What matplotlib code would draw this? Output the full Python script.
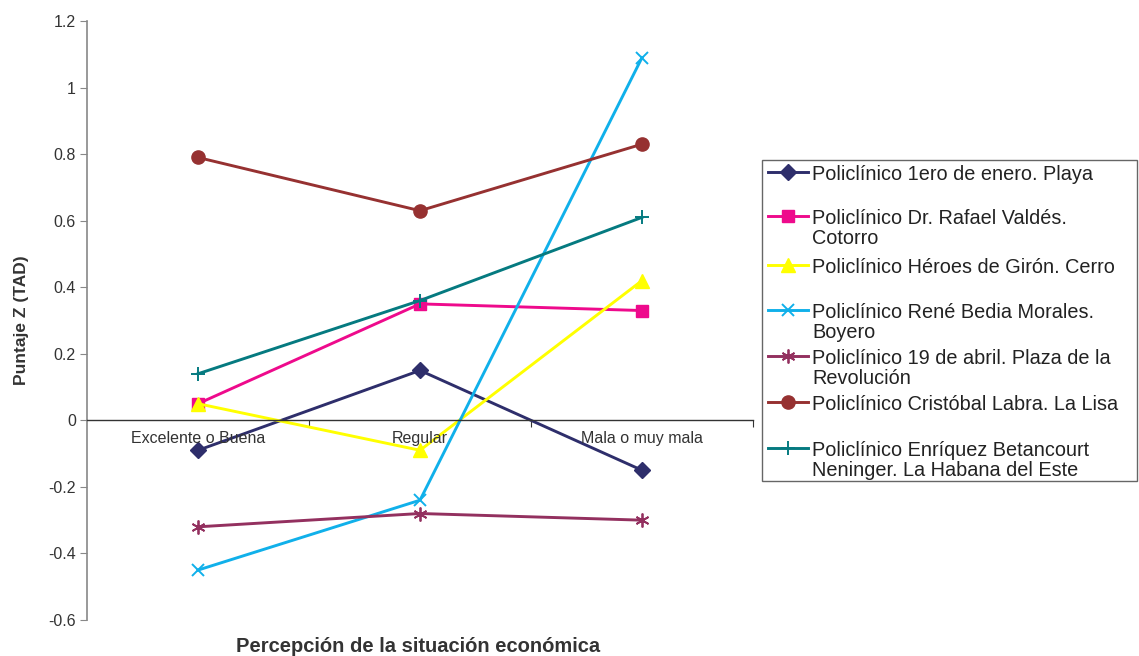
import matplotlib
matplotlib.use("Agg")
import matplotlib.pyplot as plt
from matplotlib.lines import Line2D

plt.rcParams["font.family"] = ["Liberation Sans", "DejaVu Sans"]

# categories on the x axis
categories = ["Excelente o Buena", "Regular", "Mala o muy mala"]

# one list of Z scores per policlinic
playa = [-0.09, 0.15, -0.15]
cotorro = [0.05, 0.35, 0.33]
cerro = [0.05, -0.09, 0.42]
boyero = [-0.45, -0.24, 1.09]
plaza = [-0.32, -0.28, -0.30]
lisa = [0.79, 0.63, 0.83]
habana_este = [0.14, 0.36, 0.61]

labels = [
    "Policlínico 1ero de enero. Playa",
    "Policlínico Dr. Rafael Valdés.\nCotorro",
    "Policlínico Héroes de Girón. Cerro",
    "Policlínico René Bedia Morales.\nBoyero",
    "Policlínico 19 de abril. Plaza de la\nRevolución",
    "Policlínico Cristóbal Labra. La Lisa",
    "Policlínico Enríquez Betancourt\nNeninger. La Habana del Este",
]

yticks = [-0.6, -0.4, -0.2, 0, 0.2, 0.4, 0.6, 0.8, 1, 1.2]
ytick_labels = ["-0.6", "-0.4", "-0.2", "0", "0.2", "0.4", "0.6", "0.8", "1", "1.2"]

series = [playa, cotorro, cerro, boyero, plaza, lisa, habana_este]
styles = [
    dict(color="#2e2e6b", marker="D", markersize=8),
    dict(color="#ee0a8c", marker="s", markersize=8.5),
    dict(color="#ffff00", marker="^", markersize=10),
    dict(color="#10b0ea", marker="x", markersize=9, markeredgewidth=1.4),
    dict(color="#93305f", marker=(6, 2, 0), markersize=10, markeredgewidth=1.3),
    dict(color="#963131", marker="o", markersize=9.5),
    dict(color="#057a80", marker="+", markersize=10, markeredgewidth=1.4),
]

fig = plt.figure(figsize=(11.39, 6.56), dpi=100)
ax = fig.add_axes([0.0764, 0.0549, 0.5847, 0.913])

x = list(range(len(categories)))
for vals, st in zip(series, styles):
    ax.plot(x, vals, linewidth=2.1, clip_on=False, **st)

ax.set_xlim(-0.5, 2.5)
ax.set_ylim(-0.6, 1.2)
ax.set_yticks(yticks)
ax.set_yticklabels(ytick_labels, fontsize=11.5, color="#333333")

# x axis sits on zero, with ticks between categories
ax.spines["top"].set_visible(False)
ax.spines["right"].set_visible(False)
ax.spines["bottom"].set_position(("data", 0))
ax.spines["bottom"].set_color("#333333")
ax.spines["bottom"].set_linewidth(1.0)
ax.spines["left"].set_color("#888888")
ax.spines["left"].set_linewidth(1.2)
ax.tick_params(axis="y", direction="out", length=5, color="#888888", pad=3)
ax.set_xticks([0.5, 1.5, 2.5])
ax.set_xticklabels([])
ax.tick_params(axis="x", direction="out", length=5, color="#333333")
for xi, cat in zip(x, categories):
    ax.text(xi, -0.033, cat, ha="center", va="top", fontsize=11.5, color="#333333")

ax.set_ylabel("Puntaje Z (TAD)", fontsize=12.5, fontweight="bold", color="#333333", labelpad=14)
fig.text(418 / 1139, 1 - 647 / 656, "Percepción de la situación económica", ha="center", va="center",
         fontsize=14.5, fontweight="bold", color="#333333")

# legend drawn by hand so handles sit on the first line of each entry
box = plt.Rectangle((762 / 1139, 1 - 481 / 656), (1137 - 762) / 1139, (481 - 160) / 656,
                    transform=fig.transFigure, fill=False, edgecolor="#666666", linewidth=1.0)
fig.add_artist(box)
rows = [172, 216, 265, 310, 356, 402, 448]
for row, lab, st in zip(rows, labels, styles):
    yy = 1 - row / 656
    fig.add_artist(Line2D([768 / 1139, 808 / 1139], [yy, yy], transform=fig.transFigure,
                          linewidth=2.1, color=st["color"]))
    mst = {k: v for k, v in st.items() if k != "color"}
    fig.add_artist(Line2D([788 / 1139], [yy], transform=fig.transFigure, color=st["color"],
                          linestyle="none", **mst))
    for i, part in enumerate(lab.split("\n")):
        fig.text(812 / 1139, 1 - (row + 21 * i) / 656, part, ha="left", va="center_baseline",
                 fontsize=14.3, color="#222222")

fig.savefig("out.png", dpi=100)
